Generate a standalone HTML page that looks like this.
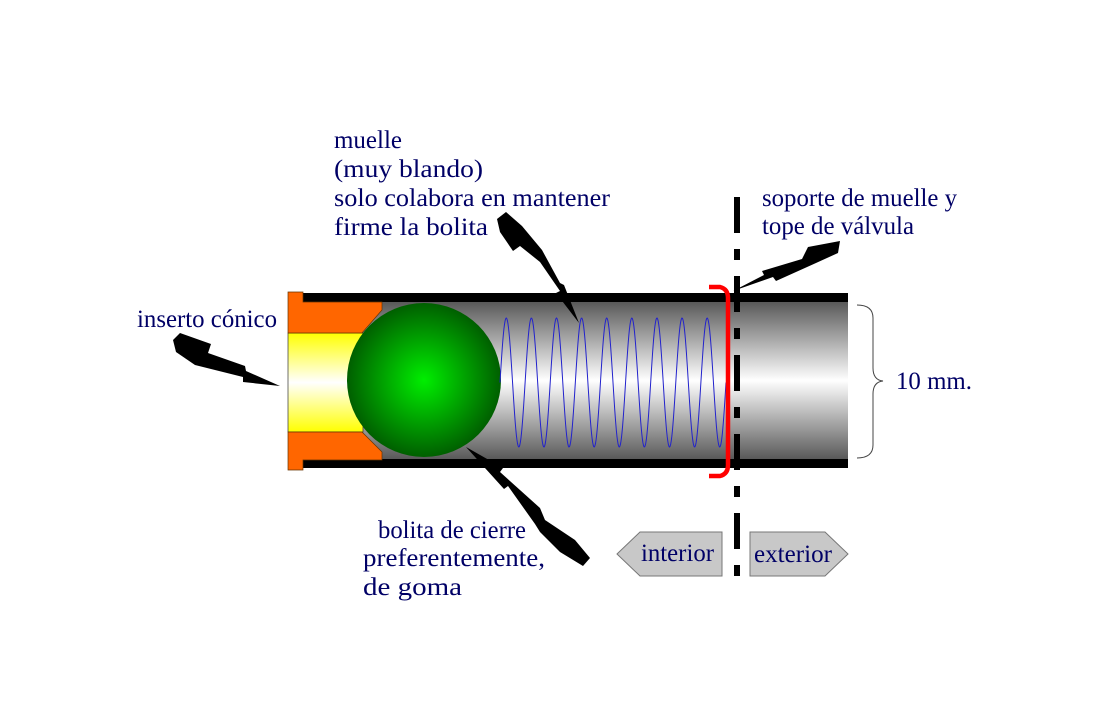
<!DOCTYPE html>
<html><head><meta charset="utf-8"><style>
html,body{margin:0;padding:0;background:#fff;}
svg{display:block}
text{font-family:"Liberation Serif",serif;font-size:25px;fill:#000066;}
</style></head><body>
<svg id="s" width="1093" height="726" viewBox="0 0 1093 726" xmlns="http://www.w3.org/2000/svg">
<defs>
<linearGradient id="gray" x1="0" y1="0" x2="0" y2="1">
<stop offset="0" stop-color="#555"/><stop offset="0.5" stop-color="#fff"/><stop offset="1" stop-color="#555"/>
</linearGradient>
<linearGradient id="yel" x1="0" y1="0" x2="0" y2="1">
<stop offset="0" stop-color="#ffff00"/><stop offset="0.5" stop-color="#ffffff"/><stop offset="1" stop-color="#ffff00"/>
</linearGradient>
<radialGradient id="ball" cx="0.5" cy="0.5" r="0.5">
<stop offset="0" stop-color="#00ee00"/><stop offset="1" stop-color="#005f00"/>
</radialGradient>
</defs>
<rect x="303" y="300" width="545" height="161" fill="url(#gray)"/>
<rect x="303" y="293" width="545" height="9" fill="#000"/>
<rect x="303" y="459" width="545" height="9" fill="#000"/>
<rect x="288" y="333" width="75" height="99" fill="url(#yel)" stroke="#333" stroke-width="0.7"/>
<path d="M288,292 H303 V302 H382 V310 L362,333 H288 Z" fill="#ff6600" stroke="#663300" stroke-width="0.7"/>
<path d="M288,470 H303 V460 H382 V452 L362,432 H288 Z" fill="#ff6600" stroke="#663300" stroke-width="0.7"/>
<circle cx="424" cy="380" r="77" fill="url(#ball)"/>
<path id="spring" d="" fill="none" stroke="#2222cc" stroke-width="1"/>
<line x1="737" y1="197" x2="737" y2="580" stroke="#000" stroke-width="6" stroke-dasharray="36,16,11,16"/>
<path d="M709,287 H720 Q728,289 728,298 V465 Q728,474 720,476 H709" fill="none" stroke="#ff0000" stroke-width="4.5"/>
<path d="M857,305 Q873,305 873,318 V368 Q873,380 883,381 Q873,382 873,394 V445 Q873,458 857,458" fill="none" stroke="#444" stroke-width="1"/>
<polygon points="173,340 180,333 211,344 208,353 245,366 246,371 280,386 243,382 243,377 195,365 176,352" fill="#000"/>
<polygon points="497,219 506,212 522,226 542,250 560,283 564,285 579,323 556,293 560,291 540,262 520,246 513,251 500,232" fill="#000"/>
<polygon points="466,447 503,468 500,472 540,508 545,520 575,540 590,558 583,566 560,552 540,532 535,524 508,486 504,489" fill="#000"/>
<polygon points="733,291 764,275 762,271 802,259 808,247 840,241 838,253 816,263 776,281 773,277" fill="#000"/>
<polygon points="617,554 640,532 722,532 722,576 640,576" fill="#c8c8c8" stroke="#777" stroke-width="1"/>
<polygon points="750,532 825,532 848,554 825,576 750,576" fill="#c8c8c8" stroke="#777" stroke-width="1"/>
<text x="641" y="561" textLength="73" lengthAdjust="spacingAndGlyphs">interior</text>
<text x="754" y="562" textLength="78" lengthAdjust="spacingAndGlyphs">exterior</text>
<text x="334" y="148" textLength="68" lengthAdjust="spacingAndGlyphs">muelle</text>
<text x="334" y="177" textLength="149" lengthAdjust="spacingAndGlyphs">(muy blando)</text>
<text x="334" y="206" textLength="276" lengthAdjust="spacingAndGlyphs">solo colabora en mantener</text>
<text x="334" y="235" textLength="154" lengthAdjust="spacingAndGlyphs">firme la bolita</text>
<text x="762" y="206" textLength="195" lengthAdjust="spacingAndGlyphs">soporte de muelle y</text>
<text x="762" y="234" textLength="152" lengthAdjust="spacingAndGlyphs">tope de válvula</text>
<text x="137" y="327" textLength="140" lengthAdjust="spacingAndGlyphs">inserto cónico</text>
<text x="896" y="389" textLength="76" lengthAdjust="spacingAndGlyphs">10 mm.</text>
<text x="378" y="538" textLength="148" lengthAdjust="spacingAndGlyphs">bolita de cierre</text>
<text x="363" y="566" textLength="182" lengthAdjust="spacingAndGlyphs">preferentemente,</text>
<text x="363" y="595" textLength="99" lengthAdjust="spacingAndGlyphs">de goma</text>
</svg>
<script>
(function(){
var d="",x0=500,x1=726,yc=382.5,a=64.5,n=9;
for(var i=0;i<=400;i++){var t=i/400;var x=x0+(x1-x0)*t;var y=yc-a*Math.sin(2*Math.PI*n*t);
d+=(i?"L":"M")+x.toFixed(2)+","+y.toFixed(2);}
document.getElementById("spring").setAttribute("d",d);
})();
</script>
</body></html>
